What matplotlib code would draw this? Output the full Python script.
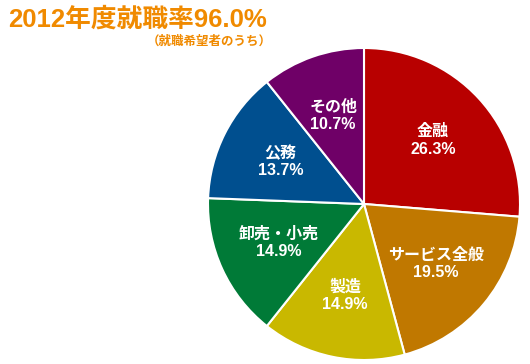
import numpy as np
import matplotlib
matplotlib.use("Agg")
import matplotlib.pyplot as plt

# Latin glyphs from Liberation Sans, CJK from Noto
plt.rcParams['font.family'] = ['Liberation Sans', 'Noto Sans CJK JP', 'DejaVu Sans']

# data
categories = ['金融', 'サービス全般', '製造', '卸売・小売', '公務', 'その他']
shares = [26.3, 19.5, 14.9, 14.9, 13.7, 10.7]
colors = ['#b80000', '#c07800', '#c9b800', '#007a37', '#004f8f', '#6f0067']
title = '2012年度就職率96.0%'
subtitle = '（就職希望者のうち）'

fig = plt.figure(figsize=(5.3, 3.64), dpi=100)

# pie centred at (364, 204) px, radius 156 px
cx, cy, r = 364, 204, 156
ax = fig.add_axes([(cx - r) / 530, (364 - cy - r) / 364, 2 * r / 530, 2 * r / 364])
wedges, _ = ax.pie(shares, colors=colors, startangle=90, counterclock=False,
                   wedgeprops=dict(edgecolor='white', linewidth=1.5))
ax.set_xlim(-1, 1)
ax.set_ylim(-1, 1)
ax.set_aspect('equal')
ax.axis('off')

# labels inside each wedge
for w, name, v in zip(wedges, categories, shares):
    ang = np.deg2rad((w.theta1 + w.theta2) / 2)
    ax.text(0.6 * np.cos(ang), 0.6 * np.sin(ang), f'{name}\n{v:.1f}%',
            ha='center', va='center', color='white', fontsize=11.5,
            fontweight='bold', linespacing=1.2)

fig.text(8 / 530, 1 - 19 / 364, title, ha='left', va='center',
         color='#f08a00', fontsize=18.5, fontweight='bold')
fig.text(272 / 530, 1 - 42 / 364, subtitle, ha='right', va='center',
         color='#f08a00', fontsize=9, fontweight='bold')

fig.savefig('out.png', dpi=100)
